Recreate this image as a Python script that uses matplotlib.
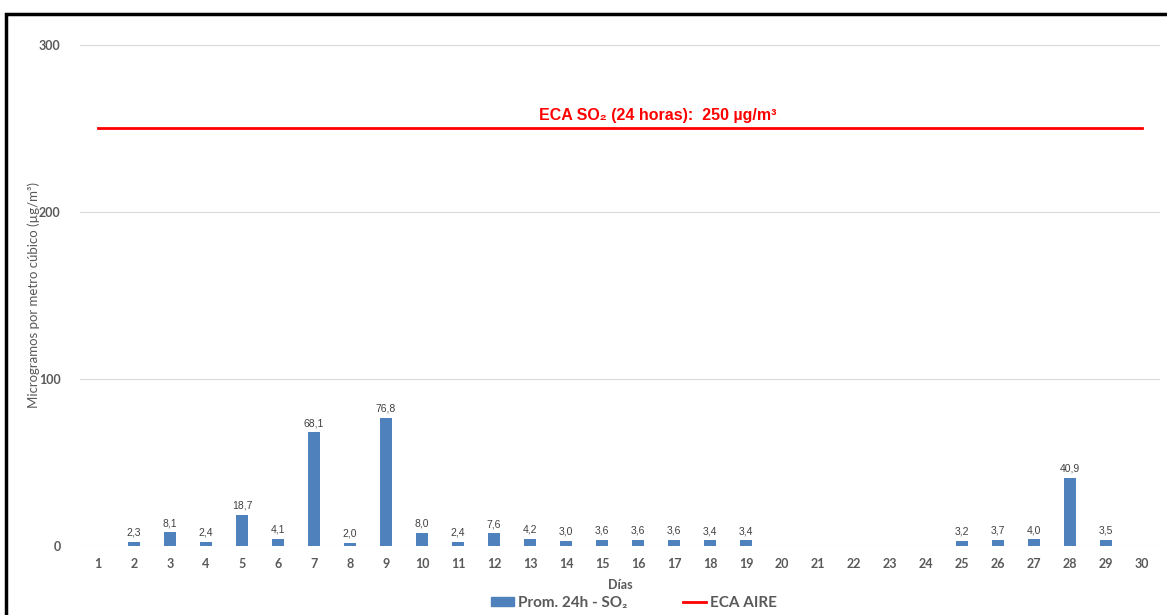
import matplotlib.pyplot as plt
from matplotlib.patches import Rectangle
from matplotlib.lines import Line2D

# Promedio diario de SO2 (µg/m³) por día del mes; None = sin dato
dias = list(range(1, 31))
so2_24h = [None, 2.3, 8.1, 2.4, 18.7, 4.1, 68.1, 2.0, 76.8, 8.0,
           2.4, 7.6, 4.2, 3.0, 3.6, 3.6, 3.6, 3.4, 3.4, None,
           None, None, None, None, 3.2, 3.7, 4.0, 40.9, 3.5, None]
eca_aire = [250] * 30
y_ticks = [0, 100, 200, 300]

BAR_COLOR = "#4f81bd"
ECA_COLOR = "#ff0000"
TICK_COLOR = "#595959"

fig = plt.figure(figsize=(11.67, 6.15), dpi=100)
ax = fig.add_axes([80 / 1167, 69 / 615, 1080 / 1167, 501 / 615])

x = list(range(1, len(dias) + 1))
vals = [v if v is not None else 0 for v in so2_24h]
ax.bar(x, vals, width=0.33, color=BAR_COLOR, zorder=3)
for xi, v in zip(x, so2_24h):
    if v is None:
        continue
    ax.text(xi, v + 2.5, f"{v:.1f}".replace(".", ","), ha="center", va="bottom",
            fontsize=7.5, color="#404040", family="Liberation Sans")

ax.plot(x, eca_aire, color=ECA_COLOR, lw=2, zorder=4)
ax.text(16.55, 253, "ECA SO₂ (24 horas):  250 µg/m³", ha="center", va="bottom",
        fontsize=11.5, fontweight="bold", color=ECA_COLOR,
        family=["Liberation Sans", "DejaVu Sans"])

ax.set_xlim(0.5, len(dias) + 0.5)
ax.set_ylim(0, 300)
ax.set_yticks(y_ticks)
ax.set_xticks(x)
ax.set_xticklabels([str(d) for d in dias])
ax.grid(axis="y", color="#d9d9d9", lw=0.8, zorder=0)
for s in ax.spines.values():
    s.set_visible(False)
ax.tick_params(length=0, colors=TICK_COLOR, labelsize=9)
ax.tick_params(axis="x", pad=9)
ax.tick_params(axis="y", pad=14)
for lab in ax.get_xticklabels() + ax.get_yticklabels():
    lab.set_fontweight("bold")
    lab.set_family("Lato")

ax.set_xlabel("Días", fontsize=9, fontweight="bold", color=TICK_COLOR,
              family="Lato")
ax.xaxis.set_label_coords(0.5, -0.066)
ax.set_ylabel("Microgramos por metro cúbico (µg/m³)", fontsize=9.5,
              color=TICK_COLOR, family=["Lato", "DejaVu Sans"])
ax.yaxis.set_label_coords(-0.037, 0.5)

handles = [Rectangle((0, 0), 1, 1, color=BAR_COLOR),
           Line2D([], [], color=ECA_COLOR, lw=2)]
fig.legend(handles, ["Prom. 24h - SO₂", "ECA AIRE"], loc="center",
           bbox_to_anchor=(634 / 1167, 1 - 603 / 615), ncol=2, frameon=False,
           handlelength=1.5, handleheight=0.6, handletextpad=0.25,
           columnspacing=3.7,
           prop={"family": ["Lato", "DejaVu Sans"], "weight": "bold", "size": 11},
           labelcolor=TICK_COLOR)

# marco negro del gráfico
fig.patches.append(Rectangle((6 / 1167, -0.05), 1.1, 1 - 14 / 615 + 0.05,
                             transform=fig.transFigure, fill=False,
                             edgecolor="black", lw=2.5))

fig.savefig("out.png", dpi=100)
